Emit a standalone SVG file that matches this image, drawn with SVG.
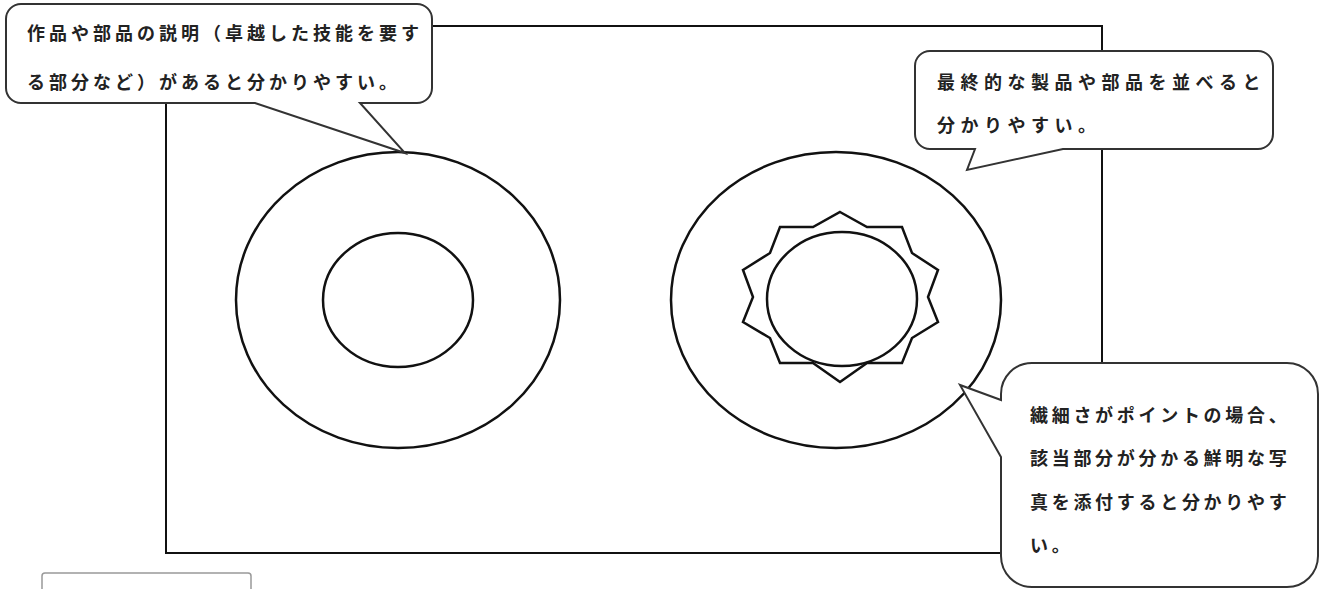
<svg xmlns="http://www.w3.org/2000/svg" width="1320" height="589" viewBox="0 0 1320 589">
<style>
.frame{fill:none;stroke:#111;stroke-width:2}
.shape{fill:none;stroke:#111;stroke-width:2.5}
.callout{fill:#fff;stroke:#333;stroke-width:2}
.t{font-family:"Noto Sans CJK JP","Noto Sans",sans-serif;font-size:18px;font-weight:bold;fill:#222}
</style>
<rect width="1320" height="589" fill="#fff"/>
<g id="frame"><rect class="frame" x="166" y="26" width="936" height="527"/></g>
<g id="left-part">
<ellipse class="shape" cx="398" cy="300" rx="162" ry="148"/>
<ellipse class="shape" cx="398" cy="300" rx="75" ry="67"/>
</g>
<g id="right-part">
<ellipse class="shape" cx="836" cy="300" rx="165" ry="148"/>
<polygon class="shape" points="840,212 867,227 902,227 912,253 938,270 928,297 938,322 912,338 902,363 867,363 840,382 813,363 780,363 770,338 743,322 753,297 743,270 770,253 780,227 813,227"/>
<ellipse class="shape" cx="842" cy="299" rx="75" ry="67"/>
</g>
<g id="callout-left">
<path class="callout" d="M21,4 H417 A15,15 0 0 1 432,19 V88 A15,15 0 0 1 417,103 H360 L405,153 L255,103 H21 A15,15 0 0 1 6,88 V19 A15,15 0 0 1 21,4 Z"/>
<text class="t" x="27" y="40" letter-spacing="4">作品や部品の説明（卓越した技能を要す</text>
<text class="t" x="27" y="89" letter-spacing="4">る部分など）があると分かりやすい。</text>
</g>
<g id="callout-top-right">
<path class="callout" d="M930,51 H1258 A15,15 0 0 1 1273,66 V134 A15,15 0 0 1 1258,149 H1063 L967,170 L975,149 H930 A15,15 0 0 1 915,134 V66 A15,15 0 0 1 930,51 Z"/>
<text class="t" x="937" y="89" letter-spacing="5.5">最終的な製品や部品を並べると</text>
<text class="t" x="937" y="132" letter-spacing="5.5">分かりやすい。</text>
</g>
<g id="callout-bottom-right">
<path class="callout" d="M1032,363 H1287 A31,31 0 0 1 1318,394 V556 A31,31 0 0 1 1287,587 H1032 A31,31 0 0 1 1001,556 V457 L960,385 L1001,400 V394 A31,31 0 0 1 1032,363 Z"/>
<text class="t" x="1030" y="422" letter-spacing="3.7">繊細さがポイントの場合、</text>
<text class="t" x="1030" y="465" letter-spacing="3.7">該当部分が分かる鮮明な写</text>
<text class="t" x="1030" y="509" letter-spacing="3.7">真を添付すると分かりやす</text>
<text class="t" x="1030" y="552" letter-spacing="3.7">い。</text>
</g>
<g id="bottom-left-box"><rect x="42" y="573" width="209" height="30" rx="3" fill="#fff" stroke="#999" stroke-width="1.5"/></g>
<g id="connectors"></g>
</svg>
